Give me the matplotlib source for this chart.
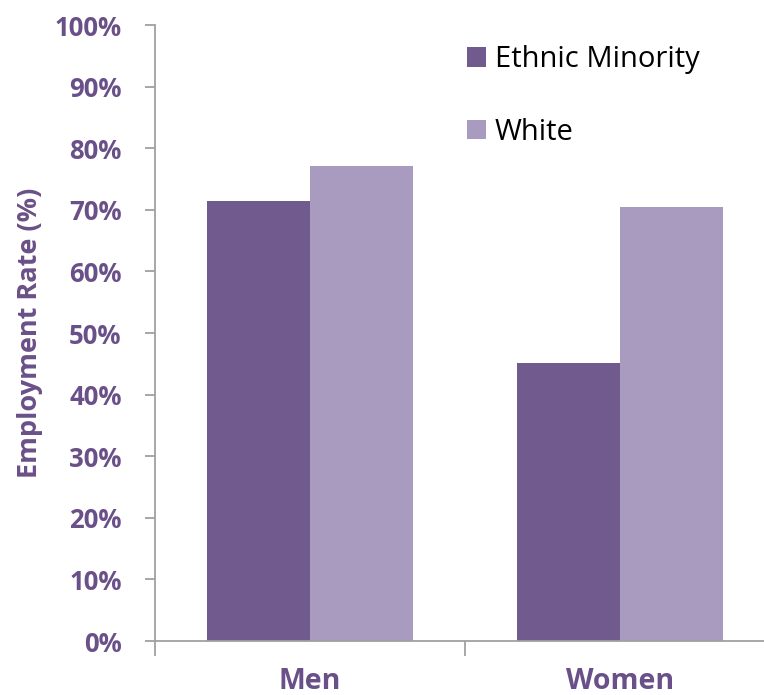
import matplotlib.pyplot as plt
from matplotlib.ticker import FixedLocator

groups = ["Men", "Women"]
ethnic_minority = [71.4, 45.1]
white = [77.1, 70.5]
yticks = [0, 10, 20, 30, 40, 50, 60, 70, 80, 90, 100]

dark = "#715a8e"
light = "#a99abf"
label_col = "#6a5088"
axis_col = "#a0a0a0"

plt.rcParams["font.family"] = ["Open Sans", "DejaVu Sans"]

fig = plt.figure(figsize=(7.64, 6.95), dpi=100)
ax = fig.add_axes([155 / 764, 54 / 695, 620 / 764, 616 / 695])

x = range(len(groups))
w = 1 / 3
ax.bar([i - w / 2 for i in x], ethnic_minority, width=w, color=dark, label="Ethnic Minority")
ax.bar([i + w / 2 for i in x], white, width=w, color=light, label="White")

ax.set_xlim(-0.5, 1.5)
ax.set_ylim(0, 100)
ax.set_yticks(yticks)
ax.set_yticklabels([f"{t}%" for t in yticks])
ax.set_xticks(list(x))
ax.set_xticklabels(groups)
ax.xaxis.set_minor_locator(FixedLocator([-0.5, 0.5, 1.5]))
ax.tick_params(axis="x", which="major", length=0, pad=19)
ax.tick_params(axis="x", which="minor", length=11, color=axis_col, width=1.3)
ax.tick_params(axis="y", length=7, color=axis_col, width=1.3, pad=17)

for t in ax.get_xticklabels() + ax.get_yticklabels():
    t.set_color(label_col)
    t.set_fontweight("bold")
for t in ax.get_yticklabels():
    t.set_fontsize(18.5)
for t in ax.get_xticklabels():
    t.set_fontsize(20.5)

for s in ["top", "right"]:
    ax.spines[s].set_visible(False)
for s in ["left", "bottom"]:
    ax.spines[s].set_color(axis_col)
    ax.spines[s].set_linewidth(1.3)

ax.set_ylabel("Employment Rate (%)", color=label_col, fontweight="bold", fontsize=19.5, labelpad=8)

ax.legend(loc="upper left", bbox_to_anchor=(0.461, 1.01), frameon=False, fontsize=21,
          handlelength=0.65, handleheight=0.65, handletextpad=0.3, labelspacing=1.5)

plt.savefig("out.png", dpi=100)
